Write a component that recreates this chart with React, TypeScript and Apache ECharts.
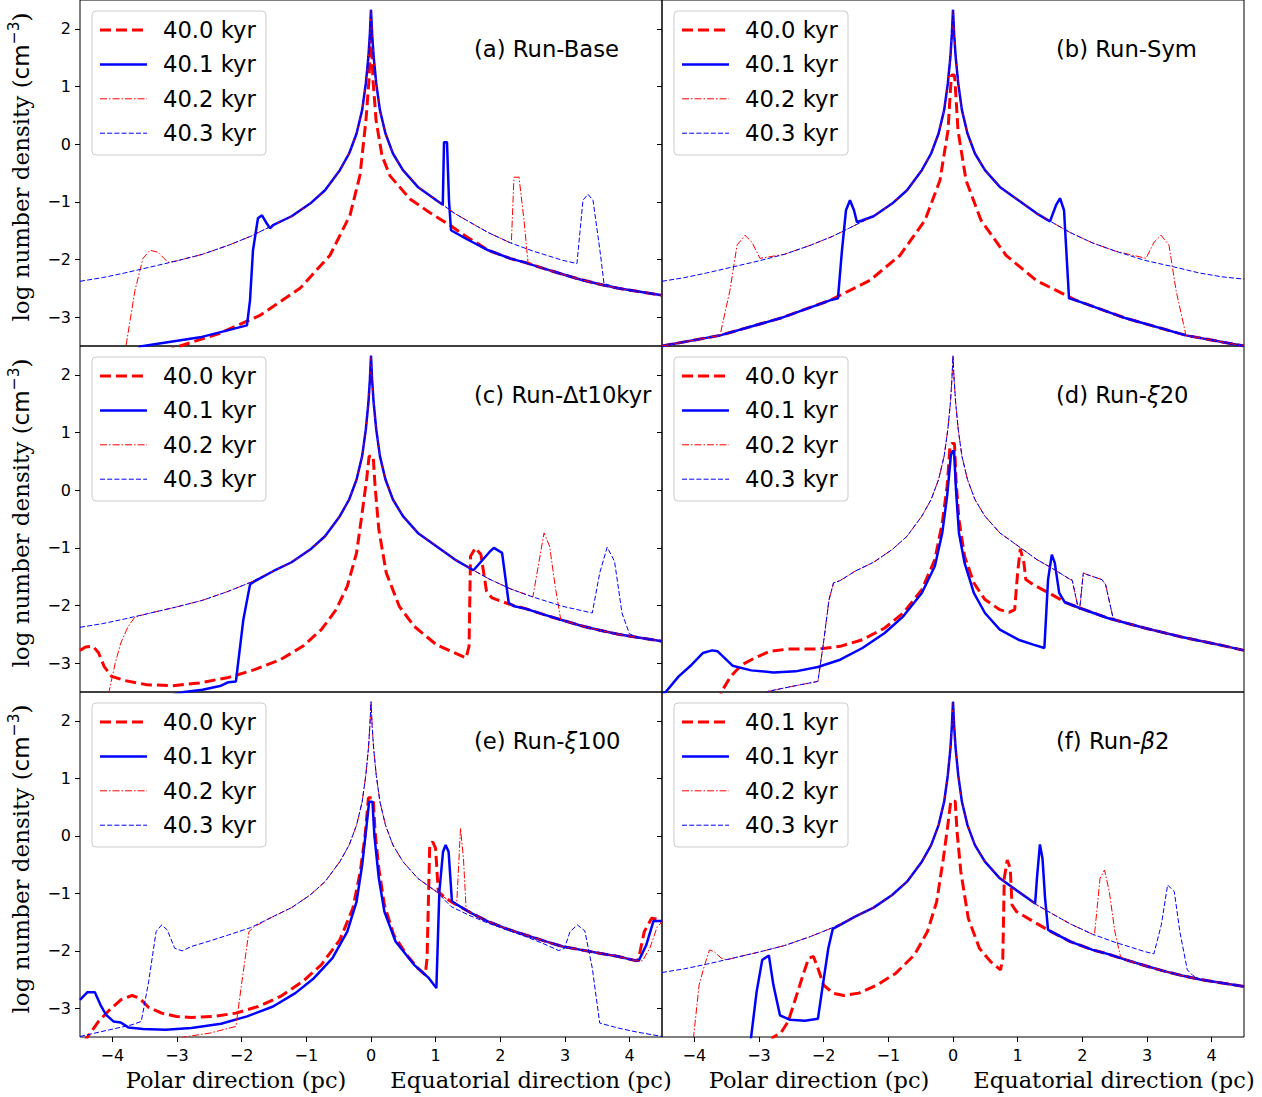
import React, { useEffect, useRef } from "react";
import * as echarts from "echarts";

type Pt = [number, number];

const X_TICKS = [-4, -3, -2, -1, 0, 1, 2, 3, 4];
const Y_TICKS = [-3, -2, -1, 0, 1, 2];

// shared upper profile
const ENV: Pt[] = [
  [-4.5, -2.378], [-4.156, -2.315], [-3.811, -2.234], [-3.409, -2.13], [-3.007, -2.025], [-2.606, -1.91],
  [-2.204, -1.753], [-1.859, -1.597], [-1.515, -1.406], [-1.228, -1.25], [-0.941, -1.03], [-0.711, -0.799],
  [-0.482, -0.451], [-0.338, -0.162], [-0.223, 0.185], [-0.137, 0.59], [-0.08, 1.053], [-0.04, 1.516],
  [-0.017, 1.921], [0, 2.33], [0.017, 1.921], [0.041, 1.516], [0.081, 1.053], [0.138, 0.59], [0.224, 0.185],
  [0.339, -0.162], [0.494, -0.451], [0.724, -0.741], [1.011, -0.972], [1.298, -1.204], [1.585, -1.389],
  [1.815, -1.534], [2.159, -1.713], [2.503, -1.852], [2.963, -2.014], [3.422, -2.13], [3.811, -2.234],
  [4.156, -2.3], [4.5, -2.34],
];
// shared lower right profile
const ENV_LOW: Pt[] = [
  [1.24, -1.49], [1.47, -1.64], [1.815, -1.84], [2.159, -1.985], [2.389, -2.054], [2.676, -2.159],
  [2.963, -2.257], [3.25, -2.35], [3.537, -2.43], [3.824, -2.5], [4.11, -2.552], [4.5, -2.62],
];
const ENV_LOW_D: Pt[] = [[1.958, -2.043], [2.389, -2.216], [2.963, -2.39], [3.537, -2.546], [4.11, -2.679], [4.5, -2.778]];
const ENV_LOW_E: Pt[] = [
  [1.241, -1.146], [1.528, -1.331], [1.815, -1.493], [2.102, -1.62], [2.389, -1.725], [2.676, -1.829],
  [2.963, -1.927], [3.25, -1.985], [3.537, -2.043], [3.824, -2.1], [4.11, -2.176],
];
const B_LOW: Pt[] = [
  [-4.5, -3.5], [-3.603, -3.316], [-2.675, -3.02], [-1.902, -2.708], [-1.284, -2.361], [-0.82, -1.927],
  [-0.433, -1.319], [-0.201, -0.625], [-0.077, 0.243], [-0.03, 1.111], [-0.02, 1.2], [0.02, 1.2], [0.03, 1.111],
  [0.077, 0.243], [0.201, -0.625], [0.433, -1.319], [0.82, -1.927], [1.284, -2.361], [1.902, -2.708],
  [2.675, -3.02], [3.603, -3.316], [4.5, -3.5],
];

const seg = (arr: Pt[], a: number, b: number): Pt[] => arr.filter((p) => p[0] > a && p[0] < b);

// (a) Run-Base
const A_RED: Pt[] = [
  [-3.2, -3.6], [-2.954, -3.5], [-2.335, -3.28], [-1.717, -2.969], [-1.098, -2.5], [-0.634, -1.927],
  [-0.325, -1.233], [-0.17, -0.538], [-0.078, 0.417], [-0.031, 1.111], [0, 2.0], [0.031, 1.111], [0.078, 0.417],
  [0.17, -0.2], [0.294, -0.55], [0.603, -0.95], [0.9, -1.18], [1.24, -1.42], [1.47, -1.6],
  ...seg(ENV_LOW, 1.7, 5),
];
const A_BLUE: Pt[] = [
  [-3.6, -3.55], [-3.572, -3.507], [-2.644, -3.35], [-1.918, -3.142], [-1.871, -2.708], [-1.825, -1.84],
  [-1.748, -1.285], [-1.686, -1.233], [-1.624, -1.354], [-1.562, -1.458],
  ...seg(ENV, -1.53, 1.09),
  [1.11, -1.05], [1.129, 0.035], [1.175, 0.035], [1.206, -0.972], [1.237, -1.493],
  ...seg(ENV_LOW, 1.3, 5),
];
const A_DASHDOT: Pt[] = [
  [-3.82, -3.7], [-3.789, -3.5], [-3.65, -2.535], [-3.526, -1.98], [-3.418, -1.84], [-3.294, -1.875], [-3.139, -2.049],
  ...seg(ENV, -3.05, 2.15),
  [2.17, -1.72], [2.211, -0.573], [2.289, -0.573], [2.366, -1.319], [2.428, -2.049],
  ...seg(ENV_LOW, 2.5, 5),
];
const A_DASH: Pt[] = [
  ...seg(ENV, -5, 3.18),
  [3.185, -2.07], [3.278, -0.972], [3.355, -0.868], [3.433, -0.972], [3.54, -1.84], [3.603, -2.413],
  ...seg(ENV_LOW, 3.65, 5),
];

// (b) Run-Sym
const B_RED: Pt[] = [...B_LOW];
const B_BLUE: Pt[] = [
  ...seg(B_LOW, -5, -1.8),
  [-1.779, -2.674], [-1.717, -1.84], [-1.655, -1.146], [-1.593, -0.972], [-1.531, -1.146], [-1.485, -1.354],
  ...seg(ENV, -1.45, 1.5),
  [1.5, -1.34], [1.593, -1.059], [1.655, -0.938], [1.717, -1.146], [1.794, -2.674],
  ...seg(B_LOW, 1.85, 5),
];
const B_DASHDOT: Pt[] = [
  ...seg(B_LOW, -5, -3.58),
  [-3.449, -2.535], [-3.34, -1.753], [-3.217, -1.58], [-3.108, -1.701], [-2.985, -1.98],
  ...seg(ENV, -2.9, 2.9),
  [2.985, -1.98], [3.108, -1.701], [3.217, -1.58], [3.34, -1.753], [3.449, -2.535],
  ...seg(B_LOW, 3.58, 5),
];
const B_DASH: Pt[] = [...ENV];

// (c) Run-Δt10kyr
const C_RED: Pt[] = [
  [-4.5, -2.778], [-4.414, -2.72], [-4.299, -2.708], [-4.213, -2.82], [-4.127, -3.056], [-4.012, -3.229],
  [-3.811, -3.3], [-3.467, -3.374], [-3.065, -3.39], [-2.663, -3.345], [-2.204, -3.247], [-1.802, -3.113],
  [-1.4, -2.94], [-1.056, -2.708], [-0.769, -2.419], [-0.539, -2.072], [-0.367, -1.667], [-0.223, -1.088],
  [-0.137, -0.394], [-0.068, 0.185], [-0.029, 0.59], [0.034, 0.59], [0.063, 0.069], [0.121, -0.683],
  [0.236, -1.435], [0.437, -2.014], [0.667, -2.36], [1.011, -2.68], [1.47, -2.91], [1.516, -2.708],
  [1.539, -1.146], [1.614, -1.001], [1.7, -1.117], [1.786, -1.753], [1.872, -1.869], [2.159, -1.985],
  ...seg(ENV_LOW, 2.2, 5),
];
const C_BLUE: Pt[] = [
  [-3.1, -3.56], [-2.893, -3.5], [-2.606, -3.46], [-2.319, -3.39], [-2.204, -3.33], [-2.089, -3.316],
  [-1.974, -2.245], [-1.871, -1.638], [-1.802, -1.58],
  ...seg(ENV, -1.75, 1.8),
  [1.843, -1.059], [1.901, -1.001], [2.027, -1.088], [2.13, -1.956], [2.216, -2.014],
  ...seg(ENV_LOW, 2.3, 5),
];
const C_DASHDOT: Pt[] = [
  [-4.09, -3.75], [-4.052, -3.5], [-3.955, -2.998], [-3.869, -2.65], [-3.754, -2.36], [-3.65, -2.199],
  ...seg(ENV, -3.45, 2.45),
  [2.503, -1.852], [2.676, -0.741], [2.762, -0.972], [2.848, -1.667], [2.934, -2.245],
  ...seg(ENV_LOW, 2.95, 5),
];
const C_DASH: Pt[] = [
  ...seg(ENV, -5, 3.43),
  [3.537, -1.435], [3.652, -0.99], [3.766, -1.233], [3.881, -2.13], [3.996, -2.488],
  ...seg(ENV_LOW, 4.05, 5),
];

// (d) Run-ξ20
const D_RED: Pt[] = [
  [-3.62, -3.7], [-3.582, -3.5], [-3.438, -3.229], [-3.266, -3.027], [-3.065, -2.91], [-2.835, -2.795],
  [-2.548, -2.755], [-2.089, -2.755], [-1.745, -2.708], [-1.4, -2.593], [-1.056, -2.39], [-0.769, -2.13],
  [-0.482, -1.725], [-0.281, -1.204], [-0.166, -0.567], [-0.091, 0.069], [-0.046, 0.764], [-0.017, 0.81],
  [0.023, 0.81], [0.046, 0.185], [0.092, -0.509], [0.179, -1.146], [0.322, -1.609], [0.494, -1.898],
  [0.724, -2.072], [0.867, -2.118], [0.954, -2.07], [0.999, -1.435], [1.04, -1.019], [1.097, -1.262],
  [1.126, -1.551], [1.241, -1.638], [1.528, -1.811], [1.757, -1.956],
  ...ENV_LOW_D,
];
const D_BLUE: Pt[] = [
  [-4.5, -3.54], [-4.443, -3.5], [-4.242, -3.229], [-4.041, -3.027], [-3.869, -2.824], [-3.725, -2.778],
  [-3.639, -2.795], [-3.409, -3.044], [-3.122, -3.125], [-2.778, -3.16], [-2.433, -3.142], [-2.089, -3.067],
  [-1.745, -2.94], [-1.4, -2.737], [-1.056, -2.477], [-0.769, -2.188], [-0.482, -1.782], [-0.281, -1.319],
  [-0.166, -0.741], [-0.091, -0.104], [-0.034, 0.59], [-0.011, 0.677], [0.017, 0.677], [0.046, 0.012],
  [0.092, -0.741], [0.179, -1.262], [0.322, -1.782], [0.494, -2.13], [0.724, -2.419], [1.011, -2.593],
  [1.241, -2.679], [1.413, -2.737], [1.47, -1.551], [1.528, -1.117], [1.574, -1.262], [1.642, -1.782],
  [1.729, -1.944],
  ...ENV_LOW_D,
];
const D_DASH: Pt[] = [
  [-2.9, -3.54], [-2.864, -3.49], [-2.491, -3.403], [-2.089, -3.316], [-2.003, -2.65], [-1.917, -1.898],
  [-1.848, -1.609], [-1.745, -1.568],
  ...seg(ENV, -1.7, 1.76),
  [1.815, -1.551], [1.843, -1.56], [1.93, -2.014], [1.958, -2.072], [2.015, -1.435], [2.073, -1.464],
  [2.303, -1.551], [2.36, -1.638], [2.475, -2.216], [2.532, -2.257],
  ...seg(ENV_LOW_D, 2.6, 5),
];
const D_DASHDOT: Pt[] = [...D_DASH];

// (e) Run-ξ100
const E_RED: Pt[] = [
  [-4.45, -3.6], [-4.385, -3.5], [-4.213, -3.229], [-4.041, -3.027], [-3.869, -2.853], [-3.696, -2.778],
  [-3.582, -2.824], [-3.438, -2.986], [-3.237, -3.085], [-3.007, -3.142], [-2.778, -3.16], [-2.433, -3.142],
  [-2.089, -3.085], [-1.745, -2.969], [-1.4, -2.795], [-1.056, -2.535], [-0.769, -2.245], [-0.482, -1.811],
  [-0.281, -1.262], [-0.166, -0.625], [-0.091, 0.012], [-0.04, 0.66], [0.034, 0.66], [0.063, 0.069],
  [0.121, -0.567], [0.207, -1.204], [0.351, -1.725], [0.552, -2.072], [0.724, -2.303], [0.839, -2.419],
  [0.867, -2.13], [0.908, -0.162], [0.954, -0.104], [0.999, -0.22], [1.04, -0.972], [1.126, -1.059],
  [1.241, -1.146],
  ...seg(ENV_LOW_E, 1.3, 4.15),
  [4.139, -2.13], [4.226, -1.667], [4.34, -1.435], [4.427, -1.45], [4.5, -1.505],
];
const E_BLUE: Pt[] = [
  [-4.5, -2.853], [-4.385, -2.72], [-4.27, -2.72], [-4.184, -2.94], [-4.098, -3.113], [-3.983, -3.229],
  [-3.869, -3.247], [-3.754, -3.333], [-3.524, -3.362], [-3.18, -3.374], [-2.778, -3.345], [-2.319, -3.27],
  [-1.917, -3.142], [-1.515, -2.969], [-1.17, -2.737], [-0.883, -2.477], [-0.596, -2.13], [-0.367, -1.667],
  [-0.223, -1.146], [-0.137, -0.509], [-0.068, 0.185], [-0.029, 0.59], [0.023, 0.59], [0.052, 0.012],
  [0.121, -0.741], [0.207, -1.319], [0.38, -1.84], [0.667, -2.245], [0.896, -2.477], [1.011, -2.65],
  [1.057, -0.972], [1.114, -0.278], [1.154, -0.162], [1.2, -0.278], [1.252, -1.146],
  ...seg(ENV_LOW_E, 1.3, 4.12),
  [4.139, -2.176], [4.254, -1.91], [4.369, -1.481], [4.5, -1.481],
];
const E_DASHDOT: Pt[] = [
  [-2.95, -3.53], [-2.893, -3.5], [-2.491, -3.432], [-2.089, -3.316], [-2.003, -2.593], [-1.888, -1.667],
  [-1.802, -1.58],
  ...seg(ENV, -1.75, 1.3),
  [1.327, -1.15], [1.384, 0.127], [1.43, -0.394], [1.47, -1.262],
  ...seg(ENV_LOW_E, 1.5, 4.15),
  [4.197, -2.176], [4.312, -1.956], [4.427, -1.58], [4.5, -1.505],
];
const E_DASH: Pt[] = [
  [-4.5, -3.49], [-4.041, -3.374], [-3.696, -3.287], [-3.553, -3.229], [-3.438, -2.535], [-3.323, -1.667],
  [-3.237, -1.551], [-3.151, -1.638], [-3.036, -1.956], [-2.921, -2.002], [-2.778, -1.927], [-2.491, -1.829],
  [-2.204, -1.725], [-1.859, -1.597],
  ...seg(ENV, -1.8, 1.05),
  [1.241, -1.233], [1.528, -1.389], [1.815, -1.522], [2.102, -1.638], [2.389, -1.753], [2.676, -1.881],
  [2.905, -1.997], [2.991, -1.96], [3.078, -1.667], [3.192, -1.551], [3.307, -1.655], [3.422, -2.303],
  [3.537, -3.258], [3.824, -3.345], [4.11, -3.414], [4.5, -3.49],
];

// (f) Run-β2
const F_RED: Pt[] = [
  [-2.82, -3.6], [-2.778, -3.5], [-2.663, -3.432], [-2.548, -3.229], [-2.433, -2.824], [-2.319, -2.419],
  [-2.232, -2.13], [-2.158, -2.1], [-2.089, -2.303], [-2.003, -2.593], [-1.859, -2.737], [-1.687, -2.778],
  [-1.457, -2.737], [-1.17, -2.593], [-0.883, -2.39], [-0.596, -2.072], [-0.395, -1.667], [-0.252, -1.146],
  [-0.149, -0.394], [-0.08, 0.185], [-0.034, 0.602], [0.034, 0.602], [0.063, 0.069], [0.121, -0.625],
  [0.236, -1.435], [0.408, -1.956], [0.58, -2.188], [0.735, -2.332], [0.77, -2.13], [0.793, -0.741],
  [0.839, -0.423], [0.885, -0.567], [0.913, -1.204], [0.982, -1.319],
  ...seg(ENV_LOW, 1.2, 5),
];
const F_BLUE: Pt[] = [
  [-3.15, -3.7], [-3.122, -3.5], [-3.036, -2.708], [-2.95, -2.159], [-2.847, -2.083], [-2.778, -2.593],
  [-2.675, -3.125], [-2.52, -3.2], [-2.29, -3.218], [-2.089, -3.183], [-2.02, -2.65], [-1.928, -1.956],
  [-1.859, -1.62], [-1.745, -1.551],
  ...seg(ENV, -1.7, 1.25),
  [1.27, -1.18], [1.298, -0.741], [1.344, -0.15], [1.384, -0.394], [1.424, -1.088], [1.47, -1.638],
  ...seg(ENV_LOW, 1.5, 5),
];
const F_DASHDOT: Pt[] = [
  [-4.05, -3.75], [-4.012, -3.5], [-3.926, -2.593], [-3.84, -2.245], [-3.765, -1.985], [-3.696, -2.014],
  [-3.582, -2.13], [-3.495, -2.159],
  ...seg(ENV, -3.45, 2.18),
  [2.187, -1.73], [2.274, -0.741], [2.343, -0.596], [2.417, -0.972], [2.503, -1.667], [2.59, -2.1],
  ...seg(ENV_LOW, 2.65, 5),
];
const F_DASH: Pt[] = [
  ...seg(ENV, -5, 3.0),
  [3.106, -2.054], [3.221, -1.551], [3.319, -0.856], [3.422, -0.972], [3.508, -1.667], [3.623, -2.332],
  [3.709, -2.43],
  ...seg(ENV_LOW, 3.75, 5),
];

const LEGEND_STD = ["40.0 kyr", "40.1 kyr", "40.2 kyr", "40.3 kyr"];
const LEGEND_F = ["40.1 kyr", "40.1 kyr", "40.2 kyr", "40.3 kyr"];
const TITLES = ["(a) Run-Base", "(b) Run-Sym", "(c) Run-Δt10kyr", "(d) Run-{i|ξ}20", "(e) Run-{i|ξ}100", "(f) Run-{i|β}2"];

const PANEL_LINES: Pt[][][] = [
  [A_RED, A_BLUE, A_DASHDOT, A_DASH],
  [B_RED, B_BLUE, B_DASHDOT, B_DASH],
  [C_RED, C_BLUE, C_DASHDOT, C_DASH],
  [D_RED, D_BLUE, D_DASHDOT, D_DASH],
  [E_RED, E_BLUE, E_DASHDOT, E_DASH],
  [F_RED, F_BLUE, F_DASHDOT, F_DASH],
];
const PANEL_LEGENDS = [LEGEND_STD, LEGEND_STD, LEGEND_STD, LEGEND_STD, LEGEND_STD, LEGEND_F];

const STYLES = [
  { color: "#ff0000", width: 3, type: [11, 5] as any },
  { color: "#0000ff", width: 2.5, type: "solid" as any },
  { color: "#ff0000", width: 1, type: [7, 2, 1.5, 2] as any },
  { color: "#0000ff", width: 1, type: [5, 2.2] as any },
];

const BOX = [
  { left: 80, top: 0, height: 346 },
  { left: 662, top: 0, height: 346 },
  { left: 80, top: 346, height: 346 },
  { left: 662, top: 346, height: 346 },
  { left: 80, top: 692, height: 345 },
  { left: 662, top: 692, height: 345 },
];
const PW = 582;

const SANS = "DejaVu Sans";
const SERIF = "DejaVu Serif";
const FS = 22.7;
const minus = (v: number) => String(v).replace("-", "\u2212");

function buildOption() {
  const grid: any[] = [];
  const xAxis: any[] = [];
  const yAxis: any[] = [];
  const series: any[] = [];
  const graphic: any[] = [];

  BOX.forEach((b, i) => {
    const bottomRow = i >= 4;
    const leftCol = i % 2 === 0;
    grid.push({
      left: b.left, top: b.top, width: PW, height: b.height,
      show: true, borderColor: "#000", borderWidth: 1, backgroundColor: "transparent",
      containLabel: false, outerBoundsMode: "none",
    });
    xAxis.push({
      type: "value", gridIndex: i, min: -4.5, max: 4.5, position: "bottom",
      axisLine: { show: false, onZero: false }, splitLine: { show: false },
      axisTick: { show: bottomRow, customValues: X_TICKS, length: 5, lineStyle: { color: "#000" } },
      axisLabel: {
        show: bottomRow, customValues: X_TICKS, margin: 10, fontSize: 16, fontFamily: SANS, color: "#000",
        formatter: minus,
      },
    });
    yAxis.push({
      type: "value", gridIndex: i, min: -3.5, max: 2.5, position: "left",
      axisLine: { show: false, onZero: false }, splitLine: { show: false },
      axisTick: { show: true, customValues: Y_TICKS, length: 5, lineStyle: { color: "#000" } },
      axisLabel: {
        show: leftCol, customValues: Y_TICKS, margin: 9, fontSize: 16, fontFamily: SANS, color: "#000",
        formatter: minus,
      },
    });
    PANEL_LINES[i].forEach((d, k) => {
      const s = STYLES[k];
      series.push({
        type: "line", xAxisIndex: i, yAxisIndex: i, data: d, name: PANEL_LEGENDS[i][k],
        showSymbol: false, symbol: "none", clip: true, smooth: false,
        lineStyle: { color: s.color, width: s.width, type: s.type },
        z: 2 + k,
      });
    });

    // legend box
    const children: any[] = [
      {
        type: "rect", shape: { x: 0, y: 0, width: 174, height: 144, r: 4 },
        style: { fill: "rgba(255,255,255,0.85)", stroke: "#cccccc", lineWidth: 1 },
      },
    ];
    PANEL_LEGENDS[i].forEach((name, k) => {
      const s = STYLES[k];
      const yy = 19 + 34.4 * k;
      children.push({
        type: "line", shape: { x1: 8, y1: yy, x2: 55, y2: yy },
        style: { stroke: s.color, lineWidth: s.width, lineDash: Array.isArray(s.type) ? s.type : null },
      });
      children.push({
        type: "text", x: 71, y: yy,
        style: {
          text: name, fontSize: FS, fontFamily: SANS, fill: "#000",
          align: "left", verticalAlign: "middle", textAlign: "left", textVerticalAlign: "middle",
        },
      });
    });
    graphic.push({ type: "group", x: b.left + 12, y: b.top + 11, z: 100, children });

    // panel title
    graphic.push({
      type: "text", x: b.left + 394, y: b.top + 49, z: 100,
      style: {
        text: TITLES[i], fontSize: FS, fontFamily: SANS, fill: "#000",
        align: "left", verticalAlign: "middle", textAlign: "left", textVerticalAlign: "middle",
        rich: { i: { fontSize: FS, fontFamily: SANS, fontStyle: "italic", fill: "#000" } },
      },
    });

    if (leftCol) {
      graphic.push({
        type: "text", x: 21, y: b.top + 167, rotation: Math.PI / 2, z: 100,
        style: {
          text: "log number density ({s|cm}{u|\u22123})",
          fontSize: 23, fontFamily: SERIF, fill: "#000", lineHeight: 30,
          align: "center", verticalAlign: "middle", textAlign: "center", textVerticalAlign: "middle",
          rich: {
            s: { fontSize: 23, fontFamily: SANS, fill: "#000", lineHeight: 30 },
            u: { fontSize: 15.5, fontFamily: SANS, fill: "#000", lineHeight: 15, verticalAlign: "top" },
          },
        },
      });
    }
  });

  const xNames = [
    { x: 236, t: "Polar direction (pc)" },
    { x: 531, t: "Equatorial direction (pc)" },
    { x: 819, t: "Polar direction (pc)" },
    { x: 1114, t: "Equatorial direction (pc)" },
  ];
  xNames.forEach((n) => {
    graphic.push({
      type: "text", x: n.x, y: 1080, z: 100,
      style: {
        text: n.t, fontSize: 22.5, fontFamily: SERIF, fill: "#000",
        align: "center", verticalAlign: "middle", textAlign: "center", textVerticalAlign: "middle",
      },
    });
  });

  return { animation: false, backgroundColor: "#fff", grid, xAxis, yAxis, series, graphic };
}

export default function App() {
  const ref = useRef<HTMLDivElement>(null);
  useEffect(() => {
    document.body.style.margin = "0";
    const chart = echarts.init(ref.current!, null, { renderer: "svg" });
    chart.setOption(buildOption() as any);
    return () => chart.dispose();
  }, []);
  return <div ref={ref} style={{ width: 1262, height: 1097 }} />;
}
